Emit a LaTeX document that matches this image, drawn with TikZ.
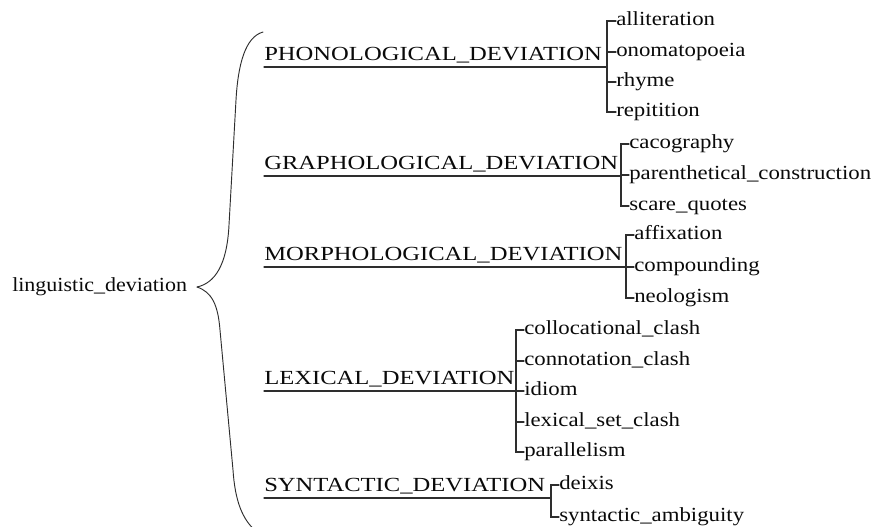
\documentclass[tikz,border=0pt]{standalone}
\usepackage{fontspec}
\setmainfont{Liberation Serif}[FakeStretch=1.1]
\newfontfamily\capsfont{Liberation Serif}[FakeStretch=1.23]
\newfontfamily\leaffont{Liberation Serif}[FakeStretch=1.14]
\usepackage{xcolor}
\usepackage{tikz}
\usetikzlibrary{positioning}
\definecolor{ink}{HTML}{0A0A0A}
\definecolor{rule}{HTML}{2E2E2E}

\begin{document}
\begin{tikzpicture}[x=0.75pt,y=-0.75pt,line cap=round,
  root/.style={anchor=base west,inner sep=0pt,text=ink,font=\fontsize{15}{18}\selectfont},
  cat/.style={anchor=south west,inner sep=0pt,text depth=4.5pt,text=ink,font=\capsfont\fontsize{15}{18}\selectfont},
  leaf/.style={anchor=west,inner sep=0pt,text height=6.9pt,text depth=0pt,text=ink,font=\leaffont\fontsize{15}{18}\selectfont},
  link/.style={draw=rule,line width=0.85pt}]
  \useasboundingbox (0,0) rectangle (874,526);
  % root and brace
  \node[root] (ld) at (12,291) {linguistic\_deviation};
  \coordinate (tip) at (197,287);
  \coordinate (btop) at (263,32);
  \coordinate (bbot) at (257,532);
  \draw[link,line width=0.7pt] (btop) .. controls (245,37) and (238,65) .. (236,100) -- (229,225)
    .. controls (227,265) and (215,283) .. (tip);
  \draw[link,line width=0.7pt] (tip) .. controls (212,292) and (218,305) .. (220,330) -- (233,470)
    .. controls (235,500) and (242,520) .. (bbot);
  % phonological
  \node[cat] (ph) at (264,67) {PHONOLOGICAL\_DEVIATION};
  \coordinate (k1) at (607,67);
  \node[leaf] (ph1) at (616,21) {alliteration};
  \node[leaf] (ph2) at (616,52) {onomatopoeia};
  \node[leaf] (ph3) at (616,82) {rhyme};
  \node[leaf] (ph4) at (616,112) {repitition};
  \draw[link] (ph.south west) -- (k1);
  \draw[link] (ph1.west) -| (k1) |- (ph4.west);
  \draw[link] (ph2.west) -- (ph2.west -| k1);
  \draw[link] (ph3.west) -- (ph3.west -| k1);
  % graphological
  \node[cat] (gr) at (264,176) {GRAPHOLOGICAL\_DEVIATION};
  \coordinate (k2) at (621,176);
  \node[leaf] (gr1) at (629,144) {cacography};
  \node[leaf] (gr2) at (629,175) {parenthetical\_construction};
  \node[leaf] (gr3) at (629,206) {scare\_quotes};
  \draw[link] (gr.south west) -- (k2);
  \draw[link] (gr1.west) -| (k2) |- (gr3.west);
  \draw[link] (gr2.west) -- (gr2.west -| k2);
  % morphological
  \node[cat] (mo) at (264,267) {MORPHOLOGICAL\_DEVIATION};
  \coordinate (k3) at (626,267);
  \node[leaf] (mo1) at (634,235) {affixation};
  \node[leaf] (mo2) at (634,267) {compounding};
  \node[leaf] (mo3) at (634,298) {neologism};
  \draw[link] (mo.south west) -- (k3);
  \draw[link] (mo1.west) -| (k3) |- (mo3.west);
  \draw[link] (mo2.west) -- (mo2.west -| k3);
  % lexical
  \node[cat] (lx) at (264,391) {LEXICAL\_DEVIATION};
  \coordinate (k4) at (516,391);
  \node[leaf] (lx1) at (524,330) {collocational\_clash};
  \node[leaf] (lx2) at (524,361) {connotation\_clash};
  \node[leaf] (lx3) at (524,391) {idiom};
  \node[leaf] (lx4) at (524,422) {lexical\_set\_clash};
  \node[leaf] (lx5) at (524,452) {parallelism};
  \draw[link] (lx.south west) -- (k4);
  \draw[link] (lx1.west) -| (k4) |- (lx5.west);
  \draw[link] (lx2.west) -- (lx2.west -| k4);
  \draw[link] (lx3.west) -- (k4);
  \draw[link] (lx4.west) -- (lx4.west -| k4);
  % syntactic
  \node[cat] (sy) at (264,498) {SYNTACTIC\_DEVIATION};
  \coordinate (k5) at (551,498);
  \node[leaf] (sy1) at (559,485) {deixis};
  \node[leaf] (sy2) at (559,517) {syntactic\_ambiguity};
  \draw[link] (sy.south west) -- (k5);
  \draw[link] (sy1.west) -| (k5) |- (sy2.west);
\end{tikzpicture}
\end{document}
